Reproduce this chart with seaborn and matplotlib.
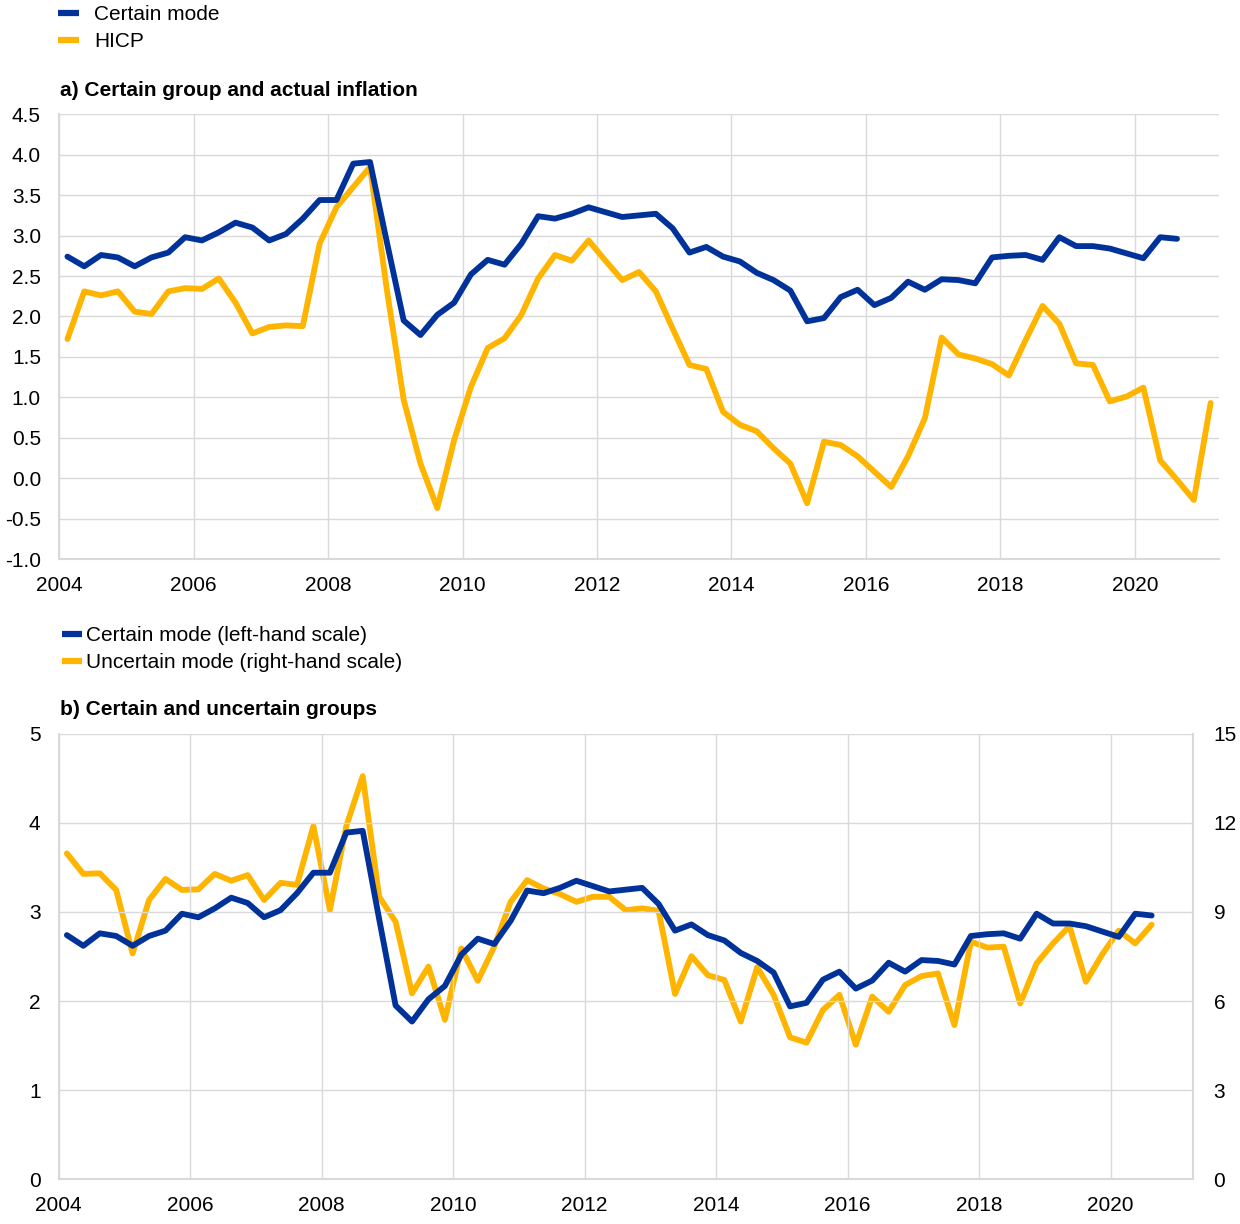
import pandas as pd
import numpy as np
import seaborn as sns
import matplotlib.pyplot as plt
from matplotlib.lines import Line2D

sns.set_theme(style='whitegrid')
plt.rcParams['font.family'] = ['Liberation Sans', 'DejaVu Sans']
plt.rcParams['axes.unicode_minus'] = False
plt.rcParams['text.color'] = 'black'
plt.rcParams['xtick.color'] = 'black'
plt.rcParams['ytick.color'] = 'black'

BLUE = '#003299'
YELLOW = '#FFB400'
GRID = '#d9d9d9'
FS = 15

# quarterly data, starting 2004Q1
certain_mode = [2.74, 2.62, 2.76, 2.73, 2.62, 2.73, 2.79, 2.98, 2.94, 3.04,
                3.16, 3.10, 2.94, 3.02, 3.21, 3.44, 3.44, 3.89, 3.91, 2.92,
                1.95, 1.77, 2.02, 2.17, 2.52, 2.70, 2.64, 2.90, 3.24, 3.21,
                3.27, 3.35, 3.29, 3.23, 3.25, 3.27, 3.09, 2.79, 2.86, 2.74,
                2.68, 2.54, 2.45, 2.32, 1.94, 1.98, 2.24, 2.33, 2.14, 2.23,
                2.43, 2.33, 2.46, 2.45, 2.41, 2.73, 2.75, 2.76, 2.70, 2.98,
                2.87, 2.87, 2.84, 2.78, 2.72, 2.98, 2.96]

hicp = [1.72, 2.31, 2.26, 2.31, 2.06, 2.03, 2.31, 2.35, 2.34, 2.47,
        2.17, 1.79, 1.87, 1.89, 1.88, 2.90, 3.35, 3.60, 3.85, 2.33,
        0.97, 0.18, -0.37, 0.47, 1.13, 1.61, 1.73, 2.02, 2.47, 2.76,
        2.69, 2.94, 2.69, 2.45, 2.55, 2.31, 1.85, 1.40, 1.35, 0.82,
        0.66, 0.58, 0.37, 0.18, -0.31, 0.45, 0.41, 0.27, 0.08, -0.11,
        0.27, 0.74, 1.74, 1.53, 1.48, 1.41, 1.27, 1.71, 2.13, 1.91,
        1.42, 1.40, 0.95, 1.01, 1.12, 0.22, -0.02, -0.27, 0.93]

uncertain_mode = [10.97, 10.28, 10.30, 9.74, 7.60, 9.40, 10.11, 9.74, 9.76, 10.28,
                  10.05, 10.24, 9.40, 9.98, 9.91, 11.89, 9.06, 11.89, 13.57, 9.51,
                  8.67, 6.26, 7.16, 5.37, 7.77, 6.68, 7.83, 9.34, 10.07, 9.79,
                  9.60, 9.34, 9.51, 9.51, 9.06, 9.12, 9.04, 6.24, 7.51, 6.87,
                  6.71, 5.31, 7.14, 6.21, 4.78, 4.60, 5.70, 6.21, 4.53, 6.15,
                  5.64, 6.54, 6.84, 6.93, 5.19, 8.00, 7.80, 7.83, 5.92, 7.27,
                  7.94, 8.52, 6.65, 7.58, 8.37, 7.94, 8.57]

quarters = pd.period_range('2004Q1', periods=len(hicp), freq='Q')
xpos = np.asarray(quarters.year + (quarters.quarter - 0.5) / 4, dtype=float)

df_a = pd.DataFrame({'x': xpos, 'HICP': hicp})
df_a['Certain mode'] = pd.Series(certain_mode)
df_b = pd.DataFrame({'x': xpos[:len(certain_mode)],
                     'Certain mode': certain_mode,
                     'Uncertain mode': uncertain_mode})

fig = plt.figure(figsize=(12.4, 12.24), dpi=100)
ax1 = fig.add_axes([0.0476, 0.5433, 0.9355, 0.3633])
ax2 = fig.add_axes([0.0473, 0.0365, 0.9146, 0.3641])
ax2r = ax2.twinx()

LW = 4.2


def style_axes(ax):
    ax.set_facecolor('white')
    ax.grid(True, color=GRID, linewidth=1.0)
    ax.set_axisbelow(True)
    for s in ax.spines.values():
        s.set_visible(False)
    ax.spines['left'].set_visible(True)
    ax.spines['bottom'].set_visible(True)
    ax.spines['left'].set_color(GRID)
    ax.spines['bottom'].set_color(GRID)
    ax.spines['left'].set_linewidth(1.5)
    ax.spines['bottom'].set_linewidth(1.5)
    ax.tick_params(length=0, labelsize=FS, colors='black')
    ax.tick_params(axis='y', pad=13)
    ax.tick_params(axis='x', pad=12)
    ax.set_xlim(2004, 2021.25)
    ax.set_xticks(range(2004, 2021, 2))
    ax.set_xlabel('')
    ax.set_ylabel('')


# a) Certain group and actual inflation
sns.lineplot(data=df_a, x='x', y='HICP', ax=ax1, color=YELLOW, lw=LW,
             solid_capstyle='round')
sns.lineplot(data=df_a, x='x', y='Certain mode', ax=ax1, color=BLUE, lw=LW,
             solid_capstyle='round')
style_axes(ax1)
ax1.set_ylim(-1.0, 4.5)
ax1.set_yticks(np.arange(-1.0, 4.51, 0.5))
ax1.set_yticklabels([f'{v:.1f}' for v in np.arange(-1.0, 4.51, 0.5)])

# b) Certain and uncertain groups
sns.lineplot(data=df_b, x='x', y='Uncertain mode', ax=ax2r, color=YELLOW, lw=LW,
             solid_capstyle='round')
sns.lineplot(data=df_b, x='x', y='Certain mode', ax=ax2, color=BLUE, lw=LW,
             solid_capstyle='round')
style_axes(ax2)
ax2.set_ylim(0, 5)
ax2.set_yticks(range(0, 6))
ax2r.set_ylim(0, 15)
ax2r.set_yticks(range(0, 16, 3))
ax2r.grid(False)
for s in ax2r.spines.values():
    s.set_visible(False)
ax2r.spines['right'].set_visible(True)
ax2r.spines['right'].set_color(GRID)
ax2r.spines['right'].set_linewidth(1.5)
ax2r.tick_params(length=0, labelsize=FS, colors='black', pad=15)
ax2r.set_ylabel('')
ax2r.set_xlim(2004, 2021.25)
# blue line drawn above the yellow one, grid of ax2 below both
ax2r.patch.set_visible(True)
ax2r.patch.set_facecolor('white')
ax2r.set_zorder(0)
ax2.set_zorder(1)
ax2.patch.set_visible(False)

# titles
fig.text(60 / 1240, 1 - 90 / 1224, 'a) Certain group and actual inflation',
         fontsize=FS, fontweight='bold', va='center', ha='left')
fig.text(60 / 1240, 1 - 709 / 1224, 'b) Certain and uncertain groups',
         fontsize=FS, fontweight='bold', va='center', ha='left')

# legends
h_a = [Line2D([], [], color=BLUE, lw=4.5, solid_capstyle='butt'),
       Line2D([], [], color=YELLOW, lw=4.5, solid_capstyle='butt')]
fig.legend(h_a, ['Certain mode', 'HICP'], loc='upper left',
           bbox_to_anchor=(58 / 1240, 1 - 5 / 1224), frameon=False,
           fontsize=FS, handlelength=1.0, handletextpad=0.75,
           labelspacing=0.38, borderpad=0, borderaxespad=0)

h_b = [Line2D([], [], color=BLUE, lw=4.5, solid_capstyle='butt'),
       Line2D([], [], color=YELLOW, lw=4.5, solid_capstyle='butt')]
fig.legend(h_b, ['Certain mode (left-hand scale)', 'Uncertain mode (right-hand scale)'],
           loc='upper left', bbox_to_anchor=(62 / 1240, 1 - 626 / 1224),
           frameon=False, fontsize=FS, handlelength=0.95, handletextpad=0.2,
           labelspacing=0.38, borderpad=0, borderaxespad=0)

fig.savefig('out.png', dpi=100)
